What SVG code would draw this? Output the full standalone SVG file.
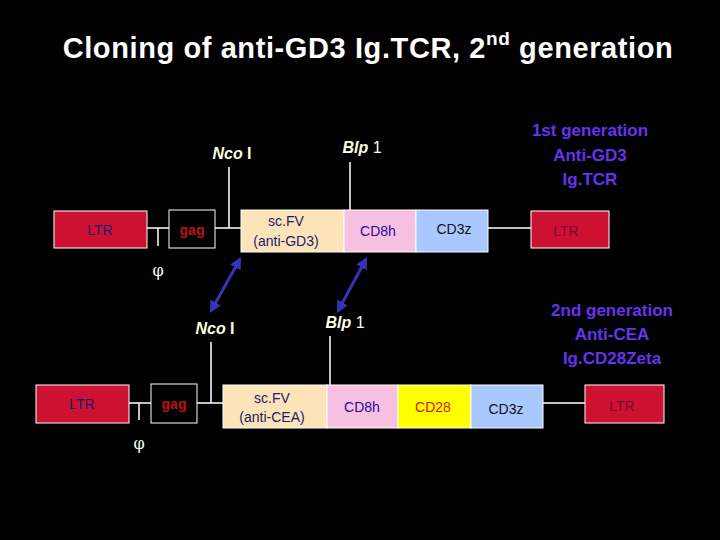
<svg xmlns="http://www.w3.org/2000/svg" width="720" height="540" viewBox="0 0 720 540">
<style>
text{font-family:"Liberation Sans",Arial,sans-serif;text-anchor:middle;dominant-baseline:central}
.b{stroke:#fff;stroke-width:1}
.ln{stroke:#fff;stroke-width:1.5;fill:none}
.t{font-size:14px}
.site{font-size:16px;fill:#ffffe0;font-weight:bold}
.gen{font-size:17px;font-weight:bold;fill:#6633ee}
.phi{font-size:16px;fill:#fff;font-family:"DejaVu Serif",serif}
.arr{stroke:#3434b8;stroke-width:3;marker-start:url(#ah);marker-end:url(#ah)}
</style>
<defs><marker id="ah" viewBox="0 0 10 10" refX="8" refY="5" markerWidth="4" markerHeight="4" orient="auto-start-reverse"><path d="M0,0L10,5L0,10z" fill="#3434b8"/></marker></defs>
<rect width="720" height="540" fill="#000"/>
<text x="368" y="48" style="font-size:29px;font-weight:bold;letter-spacing:0.6px" fill="#fff">Cloning of anti-GD3 Ig.TCR, 2<tspan dy="-10" style="font-size:19px">nd</tspan><tspan dy="10"> generation</tspan></text>
<g id="connectors">
<path class="ln" d="M147,228H169M215,228H241M488,228H531M158,228V246M229,228V167M350,210V162"/>
<path class="ln" d="M129,403H151M197,403H223M543,403H585M139,403V420M211,403V342M330,385V336"/>
<line class="arr" x1="211" y1="311" x2="240" y2="259"/>
<line class="arr" x1="338" y1="311" x2="366" y2="259"/>
</g>
<g id="row1">
<g id="ltr1"><rect class="b" x="54" y="211" width="93" height="37" fill="#cc1133"/><text class="t" x="100" y="230" fill="#1a1a6e">LTR</text></g>
<g id="gag1"><rect class="b" x="169" y="210" width="46" height="38" fill="#000"/><text class="t" x="192" y="230" fill="#bb1111" font-weight="bold">gag</text></g>
<g id="scfv1"><rect class="b" x="241" y="210" width="103" height="42" fill="#fde4b8"/><text class="t" x="286" y="221" fill="#1a1a6e">sc.FV</text><text class="t" x="286" y="241" fill="#1a1a6e">(anti-GD3)</text></g>
<g id="cd8h1"><rect class="b" x="344" y="210" width="72" height="42" fill="#f8c0e0"/><text class="t" x="378" y="231" fill="#2a0aa0">CD8h</text></g>
<g id="cd3z1"><rect class="b" x="416" y="210" width="72" height="42" fill="#a8c8ff"/><text class="t" x="454" y="229" fill="#111">CD3z</text></g>
<g id="ltr1r"><rect class="b" x="531" y="211" width="78" height="37" fill="#cc1133"/><text class="t" x="566" y="231" fill="#7a0a2a">LTR</text></g>
</g>
<g id="row2">
<g id="ltr2"><rect class="b" x="36" y="385" width="93" height="38" fill="#cc1133"/><text class="t" x="82" y="404" fill="#1a1a6e">LTR</text></g>
<g id="gag2"><rect class="b" x="151" y="384" width="46" height="39" fill="#000"/><text class="t" x="174" y="404" fill="#bb1111" font-weight="bold">gag</text></g>
<g id="scfv2"><rect class="b" x="223" y="385" width="104" height="43" fill="#fde4b8"/><text class="t" x="272" y="398" fill="#1a1a6e">sc.FV</text><text class="t" x="272" y="417" fill="#1a1a6e">(anti-CEA)</text></g>
<g id="cd8h2"><rect class="b" x="327" y="385" width="71" height="43" fill="#f8c0e0"/><text class="t" x="362" y="407" fill="#2a0aa0">CD8h</text></g>
<g id="cd28"><rect class="b" x="398" y="385" width="73" height="43" fill="#ffff00"/><text class="t" x="433" y="407" fill="#dd1111">CD28</text></g>
<g id="cd3z2"><rect class="b" x="471" y="385" width="72" height="43" fill="#a8c8ff"/><text class="t" x="506" y="409" fill="#111">CD3z</text></g>
<g id="ltr2r"><rect class="b" x="585" y="385" width="79" height="38" fill="#cc1133"/><text class="t" x="622" y="406" fill="#7a0a2a">LTR</text></g>
</g>
<g id="labels">
<text class="site" x="232" y="153"><tspan font-style="italic">Nco</tspan> I</text>
<text class="site" x="362" y="147"><tspan font-style="italic">Blp</tspan><tspan font-weight="normal"> 1</tspan></text>
<text class="site" x="215" y="328"><tspan font-style="italic">Nco</tspan> I</text>
<text class="site" x="345" y="322"><tspan font-style="italic">Blp</tspan><tspan font-weight="normal"> 1</tspan></text>
<text class="phi" x="158" y="270">φ</text>
<text class="phi" x="139" y="443">φ</text>
<text class="gen" x="590" y="130">1st generation</text><text class="gen" x="590" y="155">Anti-GD3</text><text class="gen" x="590" y="179">Ig.TCR</text>
<text class="gen" x="612" y="310">2nd generation</text><text class="gen" x="612" y="334">Anti-CEA</text><text class="gen" x="612" y="358">Ig.CD28Zeta</text>
</g>
</svg>
